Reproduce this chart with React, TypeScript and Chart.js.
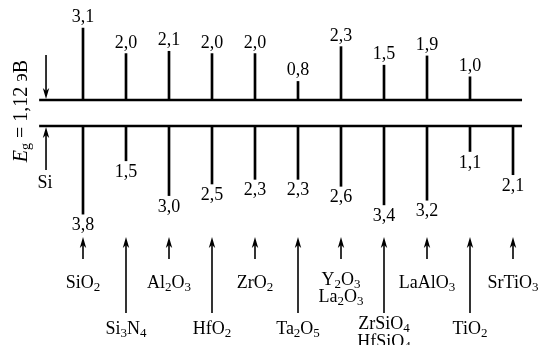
import React, { useEffect, useRef } from "react";
import { Chart, registerables } from "chart.js";

Chart.register(...registerables);

// Dielectrics, left to right (digits are drawn as subscripts)
const materials: string[][] = [
  ["SiO2"],
  ["Si3N4"],
  ["Al2O3"],
  ["HfO2"],
  ["ZrO2"],
  ["Ta2O5"],
  ["Y2O3", "La2O3"],
  ["ZrSiO4", "HfSiO4"],
  ["LaAlO3"],
  ["TiO2"],
  ["SrTiO3"],
];

// Conduction band offsets to Si, eV (none shown for SrTiO3)
const cbOffsets: (number | null)[] = [3.1, 2.0, 2.1, 2.0, 2.0, 0.8, 2.3, 1.5, 1.9, 1.0, null];

// Valence band offsets to Si, eV
const vbOffsets: number[] = [3.8, 1.5, 3.0, 2.5, 2.3, 2.3, 2.6, 3.4, 3.2, 1.1, 2.1];

// Si band gap, eV
const siGap = 1.12;

const W = 541;
const H = 345;
const X0 = 83; // px of first dielectric
const DX = 43; // px between dielectrics
const Y0 = 100; // px of Si conduction band edge
const PX_PER_EV = 23.2;

const SERIF = '"Liberation Serif", "Times New Roman", serif';

type Run = { t: string; sub?: boolean; italic?: boolean };

function chemRuns(s: string): Run[] {
  const out: Run[] = [];
  const re = /(\d+)|(\D+)/g;
  let m: RegExpExecArray | null;
  while ((m = re.exec(s))) out.push(m[1] ? { t: m[1], sub: true } : { t: m[2] });
  return out;
}

function drawRuns(
  ctx: CanvasRenderingContext2D,
  runs: Run[],
  x: number,
  y: number,
  size: number,
  rotate = 0
) {
  const subSize = Math.round(size * 0.7);
  const font = (r: Run) => `${r.italic ? "italic " : ""}${r.sub ? subSize : size}px ${SERIF}`;
  let w = 0;
  for (const r of runs) {
    ctx.font = font(r);
    w += ctx.measureText(r.t).width;
  }
  ctx.save();
  ctx.translate(x, y);
  if (rotate) ctx.rotate(rotate);
  ctx.textAlign = "left";
  ctx.textBaseline = "alphabetic";
  ctx.fillStyle = "#000";
  let cx = -w / 2;
  for (const r of runs) {
    ctx.font = font(r);
    ctx.fillText(r.t, cx, r.sub ? size * 0.17 : 0);
    cx += ctx.measureText(r.t).width;
  }
  ctx.restore();
}

function arrow(ctx: CanvasRenderingContext2D, x: number, from: number, tip: number) {
  const d = Math.sign(tip - from);
  ctx.beginPath();
  ctx.moveTo(x, from);
  ctx.lineTo(x, tip - d * 6);
  ctx.stroke();
  ctx.beginPath();
  ctx.moveTo(x, tip);
  ctx.lineTo(x - 3.2, tip - d * 11);
  ctx.lineTo(x, tip - d * 8);
  ctx.lineTo(x + 3.2, tip - d * 11);
  ctx.closePath();
  ctx.fill();
}

const fmt = (v: number) => v.toFixed(1).replace(".", ",");

const annotations = {
  id: "bandAnnotations",
  afterDatasetsDraw(chart: any) {
    const { ctx, scales } = chart;
    const xs = scales.x;
    const ys = scales.y;
    const yCb = ys.getPixelForValue(0);
    const yVb = ys.getPixelForValue(-siGap);

    ctx.save();
    ctx.fillStyle = "#000";
    ctx.strokeStyle = "#000";

    // offset values
    materials.forEach((_, i) => {
      const x = xs.getPixelForValue(i);
      const cb = cbOffsets[i];
      if (cb != null) {
        drawRuns(ctx, [{ t: fmt(cb) }], x, ys.getPixelForValue(cb) - 6, 18);
      }
      const vb = vbOffsets[i];
      drawRuns(ctx, [{ t: fmt(vb) }], x, ys.getPixelForValue(-siGap - vb) + 16, 18);
    });

    // arrows and names of the dielectrics
    ctx.lineWidth = 1.6;
    materials.forEach((names, i) => {
      const x = xs.getPixelForValue(i);
      const upper = i % 2 === 0;
      arrow(ctx, x, upper ? 259 : 313, 237);
      const baselines =
        names.length === 1
          ? [upper ? 288 : 334]
          : upper
          ? [285, 302]
          : [329, 347];
      names.forEach((n, k) => drawRuns(ctx, chemRuns(n), x, baselines[k], 18));
    });

    // Si band gap marker
    const xg = xs.getPixelForValue(-0.86);
    ctx.lineWidth = 1.6;
    arrow(ctx, xg, 55, yCb - 1);
    arrow(ctx, xg, 170, yVb + 1);
    drawRuns(ctx, [{ t: "Si" }], 45, 188, 18);
    drawRuns(
      ctx,
      [{ t: "E", italic: true }, { t: "g", sub: true }, { t: " = 1,12 эВ" }],
      27,
      111,
      20,
      -Math.PI / 2
    );
    ctx.restore();
  },
};

export default function App() {
  const ref = useRef<HTMLCanvasElement | null>(null);

  useEffect(() => {
    let chart: Chart | null = null;
    let cancelled = false;
    const bandStart = -1.02;
    const bandEnd = 10.21;

    const build = () => {
      if (cancelled || !ref.current) return;
      chart = new Chart(ref.current, {
        type: "bar",
        data: {
          datasets: [
            {
              type: "line",
              label: "Ec(Si)",
              data: [
                { x: bandStart, y: 0 },
                { x: bandEnd, y: 0 },
              ],
              borderColor: "#000",
              borderWidth: 2.6,
              pointRadius: 0,
            },
            {
              type: "line",
              label: "Ev(Si)",
              data: [
                { x: bandStart, y: -siGap },
                { x: bandEnd, y: -siGap },
              ],
              borderColor: "#000",
              borderWidth: 2.6,
              pointRadius: 0,
            },
            {
              type: "bar",
              label: "ΔEc",
              data: cbOffsets
                .map((v, i) => (v == null ? null : { x: i, y: [0, v] }))
                .filter((d) => d !== null) as any,
              backgroundColor: "#000",
              barThickness: 2,
              grouped: false,
            },
            {
              type: "bar",
              label: "ΔEv",
              data: vbOffsets.map((v, i) => ({ x: i, y: [-siGap, -siGap - v] })) as any,
              backgroundColor: "#000",
              barThickness: 2,
              grouped: false,
            },
          ] as any,
        },
        options: {
          animation: false,
          responsive: false,
          layout: { padding: 0 },
          plugins: { legend: { display: false }, tooltip: { enabled: false } },
          scales: {
            x: {
              type: "linear",
              display: false,
              offset: false,
              min: -X0 / DX,
              max: (W - X0) / DX,
            },
            y: {
              type: "linear",
              display: false,
              min: -(H - Y0) / PX_PER_EV,
              max: Y0 / PX_PER_EV,
            },
          },
        },
        plugins: [annotations],
      });
    };

    const fonts = (document as any).fonts;
    if (fonts && fonts.load) {
      Promise.all([
        fonts.load(`18px "Liberation Serif"`),
        fonts.load(`italic 18px "Liberation Serif"`),
      ])
        .catch(() => null)
        .then(build);
    } else {
      build();
    }
    return () => {
      cancelled = true;
      if (chart) chart.destroy();
    };
  }, []);

  return (
    <div style={{ position: "absolute", left: 0, top: 0, width: W, height: H, background: "#fff" }}>
      <canvas ref={ref} width={W} height={H} style={{ display: "block" }} />
    </div>
  );
}
